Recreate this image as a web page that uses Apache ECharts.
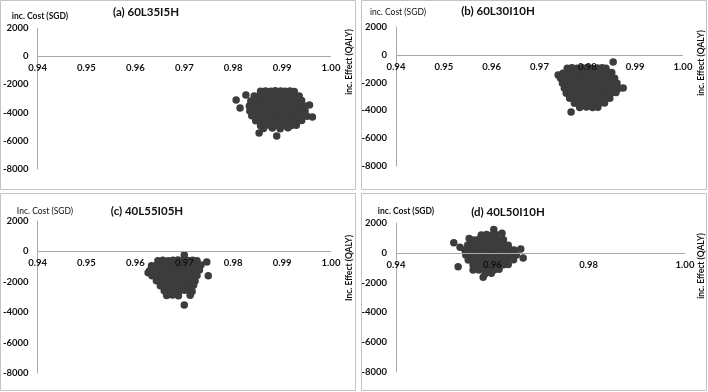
<!DOCTYPE html>
<html><head><meta charset="utf-8">
<script src="https://cdn.jsdelivr.net/npm/echarts@6/dist/echarts.min.js"></script>
<style>html,body{margin:0;padding:0;background:#fff}#c{width:708px;height:392px}</style>
</head><body><div id="c"></div>
<script>
// ---------- data ----------
const panelTitles = ['(a) 60L35I5H', '(b) 60L30I10H', '(c) 40L55I05H', '(d) 40L50I10H'];
const costAxisNames = ['inc. Cost (SGD)', 'inc. Cost (SGD)', 'Inc. Cost (SGD)', 'inc. Cost (SGD)'];
const effectAxisNames = ['inc. Effect (QALY)', 'inc. Effect (QALY)', 'Inc. Effect (QALY)', 'inc. Effect (QALY)'];
const effectMin = 0.94, effectMax = 1.00;
const effectSteps = [0.01, 0.01, 0.01, 0.02];
const costMin = -8000, costMax = 2000, costStep = 2000;
const costZero = 0;

// (a) 60L35I5H : [inc. effect, inc. cost]
const pointsA = [
 [0.9806,-3110],[0.9826,-2750],[0.9814,-3670],[0.9956,-3460],[0.9962,-4310],[0.9853,-5440],[0.9889,-5660],
 [0.9856,-2480],[0.9866,-2460],[0.9877,-2490],[0.9886,-2450],[0.9897,-2470],[0.9906,-2485],[0.9916,-2460],[0.9925,-2495],
 [0.9843,-2830],[0.9853,-2800],[0.9864,-2840],[0.9874,-2815],[0.9884,-2790],[0.9895,-2835],[0.9905,-2810],[0.9915,-2845],[0.9926,-2800],[0.9935,-2830],
 [0.9836,-3180],[0.9846,-3150],[0.9856,-3190],[0.9867,-3160],[0.9877,-3140],[0.9888,-3185],[0.9898,-3165],[0.9908,-3150],[0.9919,-3195],[0.9929,-3170],[0.9940,-3145],
 [0.9833,-3530],[0.9843,-3500],[0.9853,-3545],[0.9864,-3515],[0.9874,-3490],[0.9885,-3535],[0.9895,-3520],[0.9906,-3500],[0.9916,-3540],[0.9927,-3510],[0.9937,-3495],[0.9946,-3530],
 [0.9834,-3880],[0.9845,-3855],[0.9855,-3890],[0.9866,-3860],[0.9876,-3845],[0.9887,-3885],[0.9897,-3870],[0.9908,-3850],[0.9918,-3895],[0.9929,-3865],[0.9939,-3845],[0.9947,-3880],
 [0.9838,-4230],[0.9849,-4200],[0.9859,-4245],[0.9870,-4215],[0.9880,-4190],[0.9891,-4235],[0.9901,-4220],[0.9912,-4200],[0.9922,-4240],[0.9933,-4210],[0.9943,-4195],[0.9951,-4260],
 [0.9846,-4580],[0.9857,-4550],[0.9867,-4595],[0.9878,-4565],[0.9888,-4540],[0.9899,-4585],[0.9909,-4570],[0.9920,-4550],[0.9930,-4590],[0.9940,-4560],
 [0.9856,-4930],[0.9866,-4900],[0.9877,-4945],[0.9887,-4915],[0.9898,-4890],[0.9908,-4935],[0.9919,-4910],[0.9929,-4895],
 [0.9862,-5120],[0.9880,-5090],[0.9896,-5140],[0.9912,-5080]
];
// (b) 60L30I10H
const pointsB = [
 [0.9854,-520],[0.9766,-4110],[0.9739,-1450],[0.9875,-2390],
 [0.9758,-960],[0.9768,-930],[0.9779,-970],[0.9789,-940],[0.9800,-920],[0.9810,-965],[0.9821,-945],[0.9831,-925],[0.9839,-975],
 [0.9749,-1320],[0.9759,-1290],[0.9770,-1330],[0.9780,-1300],[0.9791,-1280],[0.9801,-1325],[0.9812,-1305],[0.9822,-1285],[0.9833,-1330],[0.9843,-1300],[0.9851,-1280],
 [0.9744,-1680],[0.9754,-1650],[0.9765,-1690],[0.9775,-1660],[0.9786,-1640],[0.9796,-1685],[0.9807,-1665],[0.9817,-1645],[0.9828,-1690],[0.9838,-1660],[0.9849,-1640],[0.9857,-1680],
 [0.9748,-2040],[0.9758,-2010],[0.9769,-2050],[0.9779,-2020],[0.9790,-2000],[0.9800,-2045],[0.9811,-2025],[0.9821,-2005],[0.9832,-2050],[0.9842,-2020],[0.9853,-2000],[0.9862,-2040],
 [0.9752,-2400],[0.9762,-2370],[0.9773,-2410],[0.9783,-2380],[0.9794,-2360],[0.9804,-2405],[0.9815,-2385],[0.9825,-2365],[0.9836,-2410],[0.9846,-2380],[0.9857,-2360],[0.9866,-2400],
 [0.9756,-2760],[0.9766,-2730],[0.9777,-2770],[0.9787,-2740],[0.9798,-2720],[0.9808,-2765],[0.9819,-2745],[0.9829,-2725],[0.9840,-2770],[0.9850,-2740],[0.9860,-2720],
 [0.9763,-3120],[0.9773,-3090],[0.9784,-3130],[0.9794,-3100],[0.9805,-3080],[0.9815,-3125],[0.9826,-3105],[0.9836,-3085],[0.9847,-3130],
 [0.9773,-3480],[0.9783,-3450],[0.9794,-3490],[0.9804,-3460],[0.9815,-3440],[0.9825,-3485],[0.9836,-3465],
 [0.9784,-3790],[0.9798,-3760],[0.9811,-3800],[0.9822,-3770]
];
// (c) 40L55I05H
const pointsC = [
 [0.9700,-240],[0.9746,-700],[0.9749,-1600],[0.9700,-3520],[0.9626,-1400],
 [0.9646,-610],[0.9656,-580],[0.9667,-620],[0.9677,-590],[0.9687,-570],[0.9697,-615],[0.9707,-595],[0.9717,-575],[0.9726,-620],
 [0.9633,-940],[0.9643,-910],[0.9654,-950],[0.9664,-920],[0.9674,-900],[0.9684,-945],[0.9694,-925],[0.9704,-905],[0.9714,-950],[0.9724,-920],[0.9734,-900],
 [0.9629,-1270],[0.9639,-1240],[0.9650,-1280],[0.9660,-1250],[0.9670,-1230],[0.9680,-1275],[0.9690,-1255],[0.9700,-1235],[0.9710,-1280],[0.9720,-1250],[0.9731,-1230],
 [0.9634,-1600],[0.9644,-1570],[0.9655,-1610],[0.9665,-1580],[0.9675,-1560],[0.9685,-1605],[0.9695,-1585],[0.9705,-1565],[0.9715,-1610],[0.9726,-1580],
 [0.9643,-1930],[0.9653,-1900],[0.9664,-1940],[0.9674,-1910],[0.9684,-1890],[0.9694,-1935],[0.9704,-1915],[0.9714,-1895],[0.9722,-1940],
 [0.9651,-2260],[0.9661,-2230],[0.9672,-2270],[0.9682,-2240],[0.9692,-2220],[0.9702,-2265],[0.9712,-2245],[0.9719,-2225],
 [0.9659,-2590],[0.9669,-2560],[0.9680,-2600],[0.9690,-2570],[0.9700,-2550],[0.9710,-2595],[0.9716,-2640],
 [0.9664,-2900],[0.9676,-2870],[0.9688,-2910],[0.9712,-2880]
];
// (d) 40L50I10H
const pointsD = [
 [0.9520,680],[0.9533,370],[0.9552,960],[0.9529,-930],[0.9560,-1150],[0.9581,-1640],[0.9603,1560],[0.9620,1320],[0.9664,-350],[0.9659,250],
 [0.9577,1190],[0.9588,1220],[0.9598,1180],[0.9608,1210],
 [0.9561,860],[0.9571,890],[0.9582,850],[0.9592,880],[0.9603,900],[0.9613,855],[0.9623,875],
 [0.9549,525],[0.9559,555],[0.9570,515],[0.9580,545],[0.9591,565],[0.9601,520],[0.9612,540],[0.9622,560],[0.9633,515],
 [0.9543,190],[0.9553,220],[0.9564,180],[0.9574,210],[0.9585,230],[0.9595,185],[0.9606,205],[0.9616,225],[0.9627,180],[0.9637,210],[0.9645,190],
 [0.9545,-145],[0.9555,-115],[0.9566,-155],[0.9576,-125],[0.9587,-105],[0.9597,-150],[0.9608,-130],[0.9618,-110],[0.9629,-155],[0.9639,-125],[0.9650,-140],
 [0.9550,-480],[0.9560,-450],[0.9571,-490],[0.9581,-460],[0.9592,-440],[0.9602,-485],[0.9613,-465],[0.9623,-445],[0.9634,-490],[0.9644,-460],
 [0.9560,-815],[0.9570,-785],[0.9581,-825],[0.9591,-795],[0.9602,-775],[0.9612,-820],[0.9623,-800],[0.9633,-780],
 [0.9572,-1150],[0.9583,-1120],[0.9593,-1160],[0.9604,-1130],[0.9614,-1110],
 [0.9585,-1410],[0.9598,-1380]
];
const panelPoints = [pointsA, pointsB, pointsC, pointsD];

// ---------- layout / style ----------
const grids = [
  {left: 34, top: 28, width: 297, height: 141},
  {left: 396, top: 27, width: 287, height: 139},
  {left: 34, top: 221, width: 297, height: 152},
  {left: 396, top: 223, width: 289, height: 149}
];
const boxes = [
  {x: 0.5, y: 0.5, width: 355, height: 189},
  {x: 361.5, y: 0.5, width: 345, height: 189},
  {x: 0.5, y: 193.5, width: 355, height: 197},
  {x: 361.5, y: 193.5, width: 345, height: 197}
];
const titlePos = [[146, 12], [498, 11], [147, 211], [508, 212]];
const costNamePos = [[40, 16], [398, 12], [45, 211], [406, 211]];
const costNameBold = [true, false, false, true];
const effectNamePos = [[349, 62], [701, 63], [349, 268], [701, 266]];

const FONT = 'Lato, "Open Sans", sans-serif';
const AXIS_GRAY = '#a9a9a9';
const TEXT = '#111111';
const DOT = '#3c3c3c';

const xAxes = [], yAxes = [], series = [], graphics = [];
grids.forEach((g, i) => {
  // effect axis; its labels are drawn above the dots (moved onto cost = 0 below)
  xAxes.push({
    type: 'value', gridIndex: i, min: effectMin, max: effectMax, interval: effectSteps[i],
    position: 'bottom', offset: 0, splitLine: {show: false}, axisTick: {show: false}, z: 5,
    axisLine: {show: false, onZero: false},
    axisLabel: {show: true, margin: 7, color: TEXT, fontFamily: FONT, fontWeight: 'bold', fontSize: 9.5,
      formatter: v => v.toFixed(2)}
  });
  yAxes.push({
    type: 'value', gridIndex: i, min: costMin, max: costMax, interval: costStep, position: 'left',
    splitLine: {show: false}, axisTick: {show: false},
    axisLine: {show: true, onZero: false, lineStyle: {color: AXIS_GRAY, width: 1}},
    axisLabel: {margin: 9, color: TEXT, fontFamily: FONT, fontWeight: 'bold', fontSize: 9.5,
      formatter: v => String(v)}
  });
  // zero line of the effect axis, drawn beneath the dots
  series.push({
    type: 'scatter', xAxisIndex: i, yAxisIndex: i, z: 1, data: [], silent: true, animation: false,
    markLine: {silent: true, symbol: 'none', animation: false, label: {show: false},
      lineStyle: {color: AXIS_GRAY, width: 1, type: 'solid'},
      emphasis: {disabled: true},
      data: [{yAxis: costZero}]}
  });
  series.push({
    type: 'scatter', xAxisIndex: i, yAxisIndex: i, z: 2,
    symbol: 'circle', symbolSize: 7.5,
    itemStyle: {color: DOT, opacity: 1},
    data: panelPoints[i], silent: true, animation: false
  });
  graphics.push({type: 'rect', shape: boxes[i], style: {fill: 'none', stroke: '#c4c4c4', lineWidth: 1}, z: -1});
  graphics.push({type: 'text', x: titlePos[i][0], y: titlePos[i][1],
    style: {text: panelTitles[i], fill: TEXT, font: 'bold 11.5px ' + FONT, textAlign: 'center', textVerticalAlign: 'middle'}});
  graphics.push({type: 'text', x: costNamePos[i][0], y: costNamePos[i][1],
    style: {text: costAxisNames[i], fill: TEXT, font: (costNameBold[i] ? 'bold ' : '') + '8.5px ' + FONT, textAlign: 'center', textVerticalAlign: 'middle'}});
  graphics.push({type: 'text', x: effectNamePos[i][0], y: effectNamePos[i][1], rotation: Math.PI / 2,
    style: {text: effectAxisNames[i], fill: TEXT, font: 'bold 8.5px ' + FONT, textAlign: 'center', textVerticalAlign: 'middle'}});
});

const chart = echarts.init(document.getElementById('c'), null, {renderer: 'canvas'});
chart.setOption({
  animation: false,
  backgroundColor: '#ffffff',
  grid: grids.map(g => Object.assign({containLabel: false}, g)),
  xAxis: xAxes,
  yAxis: yAxes,
  series: series,
  graphic: graphics
});
// move each effect-axis label row onto cost = 0, using the chart's own cost scale
const shifted = grids.map((g, i) => {
  const zeroY = chart.convertToPixel({yAxisIndex: i}, costZero);
  return {offset: zeroY - (g.top + g.height)};
});
chart.setOption({xAxis: shifted});
</script>
</body></html>
